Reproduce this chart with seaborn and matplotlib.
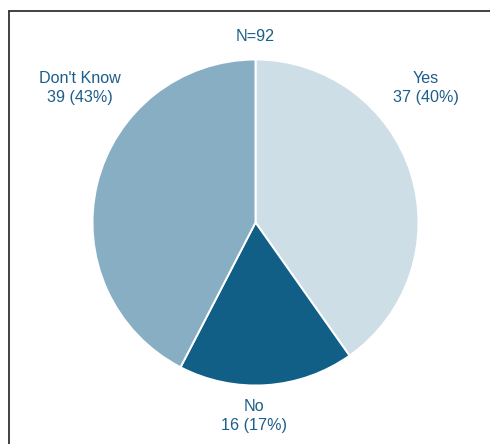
import matplotlib
matplotlib.use("Agg")
import matplotlib.pyplot as plt
import seaborn as sns
from matplotlib.lines import Line2D

sns.set_theme(style="white")
plt.rcParams["font.family"] = ["Liberation Sans", "DejaVu Sans"]

# Survey responses
categories = ["Yes", "No", "Don't Know"]
counts = [37, 16, 39]
percents = [40, 17, 43]
total_n = 92
colors = ["#CEDEE6", "#115E86", "#88AEC4"]
text_color = "#1C5E8A"

W, H, DPI = 490, 444, 100
fig = plt.figure(figsize=(W / DPI, H / DPI), dpi=DPI)
ax = fig.add_axes([0, 0, 1, 1])

# pixel-based layout: pie centre and radius
cx, cy, r = 255.5, 222.5, 163.0
ax.pie(counts, colors=colors, startangle=90, counterclock=False,
       radius=1.0, center=(0, 0),
       wedgeprops=dict(edgecolor="white", linewidth=1.4))
ax.set_xlim(-cx / r, (W - cx) / r)
ax.set_ylim(-(H - cy) / r, cy / r)
ax.set_aspect("equal")
ax.axis("off")

def px(x, y):
    return x / W, 1 - y / H

label_pos = {"Yes": (426, 88), "No": (254, 416), "Don't Know": (80, 88)}
for cat, n, p in zip(categories, counts, percents):
    x, y = px(*label_pos[cat])
    fig.text(x, y, f"{cat}\n{n} ({p}%)", ha="center", va="center",
             fontsize=11.6, color=text_color, linespacing=1.3)

x, y = px(255, 36)
fig.text(x, y, f"N={total_n}", ha="center", va="center",
         fontsize=11.6, color=text_color)

# partial frame: left and top edges
fig.add_artist(Line2D([9 / W, 9 / W], [0, 1 - 11.5 / H],
                      transform=fig.transFigure, color="#333333", lw=1.3))
fig.add_artist(Line2D([9 / W, 1], [1 - 11.5 / H, 1 - 11.5 / H],
                      transform=fig.transFigure, color="#333333", lw=1.3))

fig.savefig("out.png", dpi=DPI, facecolor="white")
